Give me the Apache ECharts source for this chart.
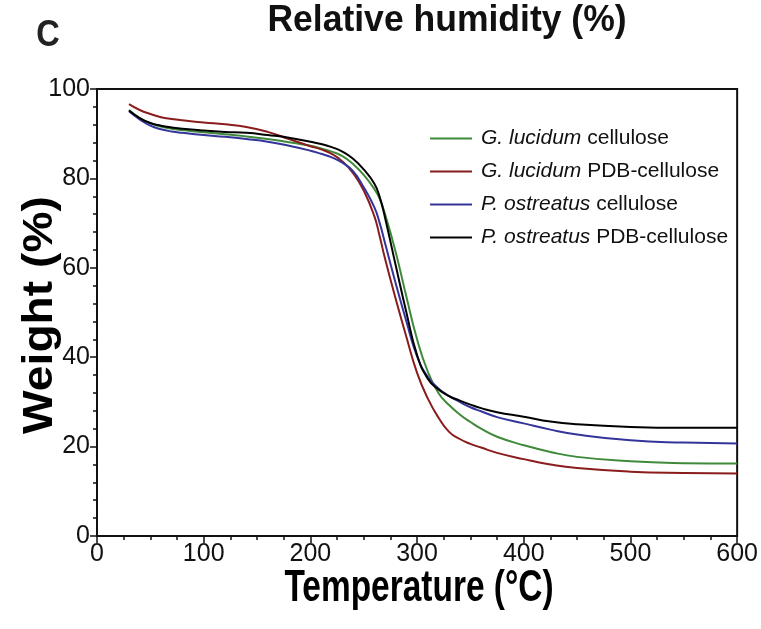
<!DOCTYPE html>
<html>
<head>
<meta charset="utf-8">
<script src="https://cdn.jsdelivr.net/npm/echarts@6/dist/echarts.min.js"></script>
<style>html,body{margin:0;padding:0;background:#fff;}#c{width:761px;height:629px;}</style>
</head>
<body>
<div id="c"></div>
<script>
var temps = [30, 40, 50, 60, 70, 80, 100, 120, 140, 160, 180, 200, 210, 220, 230, 240, 250, 260, 265, 270, 280, 290, 300, 310, 320, 330, 340, 350, 360, 375, 400, 425, 450, 500, 550, 600];
var speciesNames = ['G. lucidum', 'G. lucidum', 'P. ostreatus', 'P. ostreatus'];
var suffixNames = ['cellulose', 'PDB-cellulose', 'cellulose', 'PDB-cellulose'];
var glCellulose =    [95.3, 93.5, 92.3, 91.6, 91.1, 90.8, 90.3, 89.9, 89.4, 88.8, 88.1, 87.3, 86.7, 86.0, 85.0, 83.2, 80.8, 77.6, 75.4, 72.0, 63.5, 53.5, 44.0, 36.8, 32.0, 29.3, 27.2, 25.5, 24.0, 22.2, 20.3, 18.8, 17.7, 16.7, 16.3, 16.2];
var glPdbCellulose = [96.6, 95.3, 94.4, 93.7, 93.3, 93.0, 92.5, 92.1, 91.5, 90.4, 88.8, 87.2, 86.5, 85.5, 83.8, 81.2, 77.3, 71.5, 67.0, 62.0, 53.0, 44.5, 36.5, 30.8, 26.5, 23.3, 21.7, 20.6, 19.8, 18.6, 17.2, 16.0, 15.2, 14.4, 14.1, 14.0];
var poCellulose =    [95.0, 93.2, 91.8, 91.0, 90.5, 90.2, 89.7, 89.3, 88.8, 88.2, 87.3, 86.2, 85.5, 84.7, 83.5, 81.6, 78.0, 73.5, 70.0, 65.5, 56.5, 48.0, 40.2, 35.6, 33.0, 31.3, 30.0, 28.8, 27.9, 26.6, 25.2, 23.8, 22.7, 21.4, 20.9, 20.7];
var poPdbCellulose = [95.2, 93.5, 92.4, 91.8, 91.4, 91.1, 90.7, 90.4, 90.2, 89.7, 89.1, 88.2, 87.7, 87.0, 86.0, 84.4, 82.0, 78.8, 75.8, 71.2, 60.5, 50.0, 40.5, 35.2, 32.8, 31.3, 30.3, 29.4, 28.6, 27.7, 26.7, 25.6, 25.0, 24.4, 24.2, 24.2];
var xTicks = [0, 100, 200, 300, 400, 500, 600];
var yTicks = [0, 20, 40, 60, 80, 100];
var colors = ['#3f8a3a', '#8a1c1c', '#34349a', '#000000'];

var seriesValues = [glCellulose, glPdbCellulose, poCellulose, poPdbCellulose];
var FONT = 'Liberation Sans, Arial, Helvetica, sans-serif';

function pairs(vals) {
  return temps.map(function (t, i) { return [t, vals[i]]; });
}
var names = speciesNames.map(function (s, i) { return s + ' ' + suffixNames[i]; });

var chart = echarts.init(document.getElementById('c'), null, {renderer: 'canvas'});
chart.setOption({
  animation: false,
  backgroundColor: '#fff',
  graphic: [
    {type: 'text', x: 447, y: 21, scaleX: 0.96,
     style: {text: 'Relative humidity (%)', fontFamily: FONT, fontSize: 37, fontWeight: 'bold', fill: '#111', align: 'center', verticalAlign: 'middle'}},
    {type: 'text', x: 48, y: 36, scaleX: 0.88,
     style: {text: 'C', fontFamily: FONT, fontSize: 37, fontWeight: 'bold', fill: '#222', align: 'center', verticalAlign: 'middle'}},
    {type: 'text', x: 419, y: 589, scaleX: 0.76,
     style: {text: 'Temperature (°C)', fontFamily: FONT, fontSize: 44, fontWeight: 'bold', fill: '#000', align: 'center', verticalAlign: 'middle'}},
    {type: 'text', x: 40, y: 315, rotation: Math.PI / 2, scaleX: 1.1,
     style: {text: 'Weight (%)', fontFamily: FONT, fontSize: 42, fontWeight: 'bold', fill: '#000', align: 'center', verticalAlign: 'middle'}}
  ],
  grid: {left: 97, right: 23, top: 89, bottom: 93, show: true, borderColor: '#111', borderWidth: 2, backgroundColor: 'transparent'},
  legend: {
    left: 425, top: 123, orient: 'vertical', itemGap: 12,
    icon: 'rect', itemWidth: 42, itemHeight: 2,
    data: names,
    formatter: function (n) {
      var i = names.indexOf(n);
      return '{i|' + speciesNames[i] + '} ' + suffixNames[i];
    },
    textStyle: {
      fontFamily: FONT, fontSize: 21, color: '#111', padding: [0, 0, 0, 4],
      rich: {i: {fontFamily: FONT, fontSize: 21, fontStyle: 'italic', color: '#111'}}
    }
  },
  xAxis: {
    type: 'value', min: 0, max: 600, interval: 100,
    axisLine: {show: true, lineStyle: {color: '#111', width: 2}},
    axisTick: {show: true, inside: false, length: 7, lineStyle: {color: '#111', width: 1.5}},
    minorTick: {show: true, splitNumber: 4, length: 4, lineStyle: {color: '#111', width: 1.5}},
    splitLine: {show: false},
    axisLabel: {fontFamily: FONT, fontSize: 25, color: '#111', margin: 6,
      formatter: function (v) { return xTicks.indexOf(v) >= 0 ? String(v) : ''; }}
  },
  yAxis: {
    type: 'value', min: 0, max: 100, interval: 20,
    axisLine: {show: true, lineStyle: {color: '#111', width: 2}},
    axisTick: {show: true, inside: false, length: 7, lineStyle: {color: '#111', width: 1.5}},
    minorTick: {show: true, splitNumber: 5, length: 4, lineStyle: {color: '#111', width: 1.5}},
    splitLine: {show: false},
    axisLabel: {fontFamily: FONT, fontSize: 25, color: '#111', margin: 7,
      formatter: function (v) { return yTicks.indexOf(v) >= 0 ? String(v) : ''; }}
  },
  series: seriesValues.map(function (vals, i) {
    return {
      name: names[i], type: 'line', data: pairs(vals), smooth: 0.5,
      showSymbol: false, symbol: 'none',
      lineStyle: {color: colors[i], width: 2},
      itemStyle: {color: colors[i]},
      z: 2 + (i === 3 ? 1 : 0)
    };
  })
});
</script>
</body>
</html>
